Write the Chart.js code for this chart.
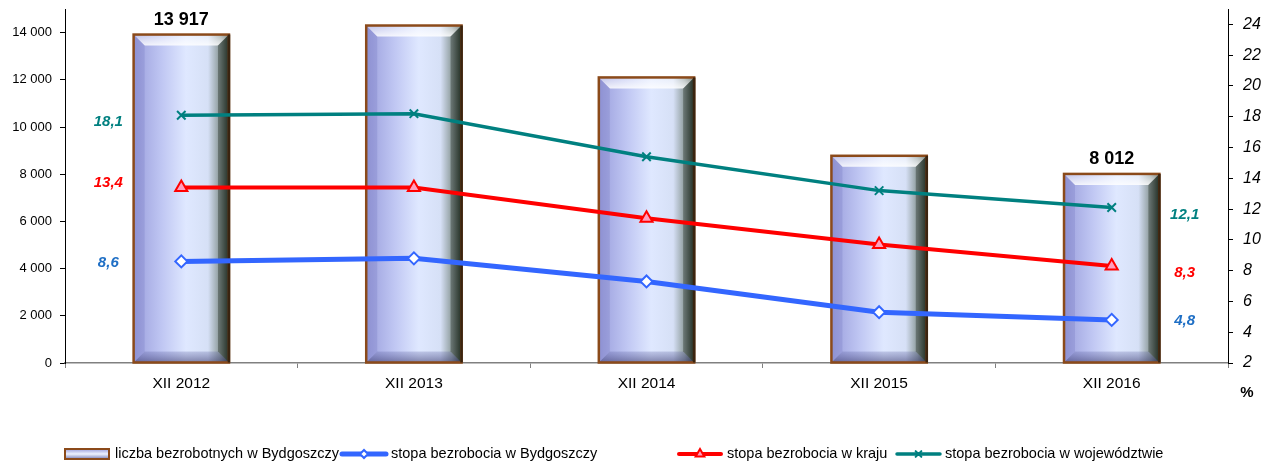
<!DOCTYPE html>
<html>
<head>
<meta charset="utf-8">
<script src="https://cdn.jsdelivr.net/npm/chart.js@4.4.1/dist/chart.umd.min.js"></script>
<style>
  html, body { margin: 0; padding: 0; background: #fff; }
  #wrap { width: 1264px; height: 463px; position: relative; }
</style>
</head>
<body>
<div id="wrap"><canvas id="chart"></canvas></div>
<script>
const categories = ['XII 2012', 'XII 2013', 'XII 2014', 'XII 2015', 'XII 2016'];
const unemployedCity = [13917, 14300, 12100, 8780, 8012];
const rateCity = [8.6, 8.8, 7.3, 5.3, 4.8];
const rateCountry = [13.4, 13.4, 11.4, 9.7, 8.3];
const rateRegion = [18.1, 18.2, 15.4, 13.2, 12.1];
const leftTicks = [0, 2000, 4000, 6000, 8000, 10000, 12000, 14000];
const rightTicks = [2, 4, 6, 8, 10, 12, 14, 16, 18, 20, 22, 24];
const seriesNames = [
  'liczba bezrobotnych w Bydgoszczy',
  'stopa bezrobocia w Bydgoszczy',
  'stopa bezrobocia w kraju',
  'stopa bezrobocia w województwie'
];

const FONT = 'Arial, "Liberation Sans", sans-serif';

function spaced(n) {
  return String(n).replace(/\B(?=(\d{3})+(?!\d))/g, ' ');
}
function comma(v) {
  return v.toFixed(1).replace('.', ',');
}
function noPad(s) {
  s.paddingTop = 0; s.paddingBottom = 0; s.paddingLeft = 0; s.paddingRight = 0;
}

// bars drawn with gradient + bevel
const barSkin = {
  id: 'barSkin',
  afterDatasetDraw(chart, args) {
    if (args.index !== 0) return;
    const ctx = chart.ctx;
    args.meta.data.forEach(el => {
      const p = el.getProps(['x', 'y', 'base', 'width'], true);
      const l = p.x - p.width / 2, r = p.x + p.width / 2, t = p.y, b = p.base;
      const bv = 11;
      ctx.save();
      const g = ctx.createLinearGradient(l, 0, r, 0);
      g.addColorStop(0, '#9a9edc');
      g.addColorStop(0.3, '#c0c7f3');
      g.addColorStop(0.55, '#dfe8ff');
      g.addColorStop(0.78, '#d6e0f6');
      g.addColorStop(0.9, '#8e9c9c');
      g.addColorStop(1, '#2c3a2e');
      ctx.fillStyle = g;
      ctx.fillRect(l, t, r - l, b - t);
      // top bevel
      const gt = ctx.createLinearGradient(0, t, 0, t + bv);
      gt.addColorStop(0, 'rgba(255,255,255,0.35)');
      gt.addColorStop(1, 'rgba(255,255,255,0.85)');
      ctx.fillStyle = gt;
      ctx.beginPath();
      ctx.moveTo(l, t); ctx.lineTo(r, t); ctx.lineTo(r - bv, t + bv); ctx.lineTo(l + bv, t + bv);
      ctx.closePath(); ctx.fill();
      // bottom bevel
      const gb = ctx.createLinearGradient(0, b - bv, 0, b);
      gb.addColorStop(0, 'rgba(90,95,160,0.25)');
      gb.addColorStop(1, 'rgba(60,60,110,0.6)');
      ctx.fillStyle = gb;
      ctx.beginPath();
      ctx.moveTo(l, b); ctx.lineTo(r, b); ctx.lineTo(r - bv, b - bv); ctx.lineTo(l + bv, b - bv);
      ctx.closePath(); ctx.fill();
      // side bevels
      ctx.fillStyle = 'rgba(90,90,170,0.18)';
      ctx.beginPath();
      ctx.moveTo(l, t); ctx.lineTo(l + bv, t + bv); ctx.lineTo(l + bv, b - bv); ctx.lineTo(l, b);
      ctx.closePath(); ctx.fill();
      ctx.fillStyle = 'rgba(20,30,20,0.35)';
      ctx.beginPath();
      ctx.moveTo(r, t); ctx.lineTo(r - bv, t + bv); ctx.lineTo(r - bv, b - bv); ctx.lineTo(r, b);
      ctx.closePath(); ctx.fill();
      // border
      ctx.lineWidth = 2.5;
      ctx.strokeStyle = '#8b4a1a';
      ctx.strokeRect(l, t, r - l, b - t);
      ctx.strokeStyle = '#3a2410';
      ctx.beginPath(); ctx.moveTo(r, t); ctx.lineTo(r, b); ctx.stroke();
      ctx.restore();
    });
  }
};

// value labels, "%" unit and legend
const extras = {
  id: 'extras',
  afterDatasetsDraw(chart) {
    const ctx = chart.ctx;
    ctx.save();
    // bar labels (first and last)
    const bars = chart.getDatasetMeta(0).data;
    ctx.font = 'bold 18px ' + FONT;
    ctx.fillStyle = '#000';
    ctx.textAlign = 'center';
    ctx.textBaseline = 'bottom';
    [0, bars.length - 1].forEach(i => {
      ctx.fillText(spaced(unemployedCity[i]), bars[i].x, bars[i].y - 6);
    });
    // line labels (first and last)
    const lineLabels = [
      { ds: 1, color: '#1f6fc5', dy: [1, 1] },
      { ds: 2, color: '#ff0000', dy: [-5, 7] },
      { ds: 3, color: '#008080', dy: [7, 7] }
    ];
    ctx.font = 'italic bold 15px ' + FONT;
    ctx.textBaseline = 'middle';
    lineLabels.forEach(o => {
      const pts = chart.getDatasetMeta(o.ds).data;
      const vals = chart.data.datasets[o.ds].data;
      const last = pts.length - 1;
      ctx.fillStyle = o.color;
      ctx.fillText(comma(vals[0]), pts[0].x - 73, pts[0].y + o.dy[0]);
      ctx.fillText(comma(vals[last]), pts[last].x + 73, pts[last].y + o.dy[1]);
    });
    ctx.restore();
  },
  afterDraw(chart) {
    const ctx = chart.ctx;
    ctx.save();
    ctx.fillStyle = '#000';
    ctx.font = 'bold 15px ' + FONT;
    ctx.textAlign = 'center';
    ctx.textBaseline = 'middle';
    ctx.fillText('%', 1247, 393);

    // legend
    const y = 454;
    const items = [
      { x: 64, w: 46, tx: 115 },
      { x: 340, w: 48, tx: 391 },
      { x: 677, w: 46, tx: 727 },
      { x: 895, w: 47, tx: 945 }
    ];
    ctx.font = '14.5px ' + FONT;
    ctx.textAlign = 'left';
    items.forEach((it, i) => {
      if (i === 0) {
        const g = ctx.createLinearGradient(0, y - 5, 0, y + 5);
        g.addColorStop(0, '#9a9edc');
        g.addColorStop(0.5, '#eef2ff');
        g.addColorStop(1, '#7a80b8');
        ctx.fillStyle = '#8b4a1a';
        ctx.fillRect(it.x, y - 6, it.w, 12);
        ctx.fillStyle = g;
        ctx.fillRect(it.x + 2, y - 4, it.w - 4, 8);
      } else {
        const ds = chart.data.datasets[i];
        ctx.strokeStyle = ds.borderColor;
        ctx.lineWidth = ds.borderWidth;
        ctx.lineCap = 'round';
        ctx.beginPath();
        ctx.moveTo(it.x + 2, y); ctx.lineTo(it.x + it.w - 2, y);
        ctx.stroke();
        ctx.fillStyle = ds.pointBackgroundColor;
        ctx.strokeStyle = ds.pointBorderColor;
        ctx.lineWidth = ds.pointBorderWidth;
        Chart.helpers.drawPoint(ctx, {
          pointStyle: ds.pointStyle,
          radius: ds.pointRadius - 2,
          borderWidth: ds.pointBorderWidth
        }, it.x + it.w / 2, y);
      }
      ctx.fillStyle = '#000';
      ctx.fillText(seriesNames[i], it.tx, y);
    });
    ctx.restore();
  }
};

new Chart(document.getElementById('chart'), {
  type: 'bar',
  data: {
    labels: categories,
    datasets: [
      {
        label: seriesNames[0],
        data: unemployedCity,
        yAxisID: 'y',
        backgroundColor: 'rgba(0,0,0,0)',
        borderWidth: 0,
        barPercentage: 0.41,
        categoryPercentage: 1,
        order: 10
      },
      {
        type: 'line',
        label: seriesNames[1],
        data: rateCity,
        yAxisID: 'y1',
        borderColor: '#3366ff',
        borderWidth: 5,
        pointStyle: 'rectRot',
        pointRadius: 6,
        pointBorderWidth: 2,
        pointBackgroundColor: '#ffffff',
        pointBorderColor: '#3366ff',
        tension: 0,
        order: 3
      },
      {
        type: 'line',
        label: seriesNames[2],
        data: rateCountry,
        yAxisID: 'y1',
        borderColor: '#ff0000',
        borderWidth: 4,
        pointStyle: 'triangle',
        pointRadius: 7,
        pointBorderWidth: 2,
        pointBackgroundColor: '#ff9fbf',
        pointBorderColor: '#ff0000',
        tension: 0,
        order: 2
      },
      {
        type: 'line',
        label: seriesNames[3],
        data: rateRegion,
        yAxisID: 'y1',
        borderColor: '#008080',
        borderWidth: 3.5,
        pointStyle: 'crossRot',
        pointRadius: 6,
        pointBorderWidth: 2,
        pointBackgroundColor: '#008080',
        pointBorderColor: '#008080',
        tension: 0,
        order: 1
      }
    ]
  },
  options: {
    responsive: true,
    maintainAspectRatio: false,
    animation: false,
    layout: { padding: { top: 9, left: 0, right: 0, bottom: 0 } },
    plugins: {
      legend: { display: false },
      tooltip: { enabled: false }
    },
    scales: {
      x: {
        offset: true,
        grid: { display: true, drawOnChartArea: false, drawTicks: true, tickLength: 5, color: '#808080', offset: true },
        border: { color: '#808080', width: 1.5 },
        ticks: { color: '#000', font: { family: FONT, size: 15.5 }, padding: 6, maxRotation: 0 },
        afterFit(s) { s.height = 100; noPad(s); }
      },
      y: {
        position: 'left',
        min: 0,
        max: 15000,
        afterBuildTicks(s) { s.ticks = leftTicks.map(v => ({ value: v })); },
        grid: { drawOnChartArea: false, drawTicks: true, tickLength: 5, color: '#000' },
        border: { color: '#000', width: 1 },
        ticks: {
          color: '#000',
          padding: 8,
          font: { family: FONT, size: 13 },
          callback: v => spaced(v)
        },
        afterFit(s) { s.width = 65; noPad(s); }
      },
      y1: {
        position: 'right',
        min: 2,
        max: 25,
        afterBuildTicks(s) { s.ticks = rightTicks.map(v => ({ value: v })); },
        grid: { drawOnChartArea: false, drawTicks: true, tickLength: 5, color: '#000' },
        border: { color: '#000', width: 1 },
        ticks: {
          color: '#000',
          padding: 10,
          font: { family: FONT, size: 16, style: 'italic' }
        },
        afterFit(s) { s.width = 36; noPad(s); }
      }
    }
  },
  plugins: [barSkin, extras]
});
</script>
</body>
</html>
